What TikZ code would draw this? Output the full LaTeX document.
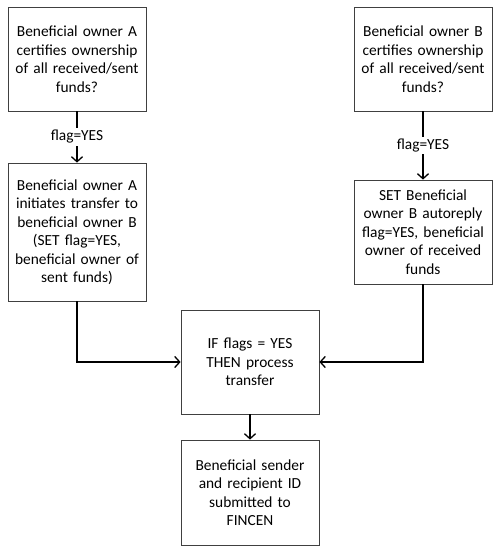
\documentclass[tikz,border=0pt]{standalone}
\usepackage{fontspec}
\setmainfont{Carlito}
\usetikzlibrary{arrows.meta}

\begin{document}
\begin{tikzpicture}[x=1pt, y=1pt, >={Straight Barb[length=5pt,width=11pt]},
                    flow/.style={->, line width=1.3pt, black},
                    every node/.style={font=\fontsize{15.4}{18.5}\selectfont}]
  \tikzstyle{box}=[draw=black!75, line width=0.8pt, fill=white, align=center,
                   text width=130pt, inner xsep=4pt, minimum height=104pt]
  \useasboundingbox (0,0) rectangle (500,550);

  \node[box] (a1) at (77,491) {Beneficial owner A\\certifies ownership\\of all received/sent\\funds?};
  \node[box, minimum height=138pt] (a2) [below of=a1, node distance=173pt]
        {Beneficial owner A\\initiates transfer to\\beneficial owner B\\(SET flag=YES,\\beneficial owner of\\sent funds)};
  \node[box] (b1) [right of=a1, node distance=346pt] {Beneficial owner B\\certifies ownership\\of all received/sent\\funds?};
  \node[box] (b2) [below of=b1, node distance=173pt]
        {SET Beneficial\\owner B autoreply\\flag=YES, beneficial\\owner of received\\funds};
  \node[box] (c) at (250,188) {IF flags = YES\\THEN process\\transfer};
  \node[box, minimum height=105pt] (d) [below of=c, node distance=130.5pt]
        {Beneficial sender\\and recipient ID\\submitted to\\FINCEN};

  \draw[flow] (a1) -- node[fill=white, inner sep=2pt] {flag=YES} (a2);
  \draw[flow] (b1) -- node[fill=white, inner sep=2pt] {flag=YES} (b2);
  \draw[flow] (a2.south) |- (c.west);
  \draw[flow] (b2.south) |- (c.east);
  \draw[flow] (c) -- (d);
\end{tikzpicture}
\end{document}
